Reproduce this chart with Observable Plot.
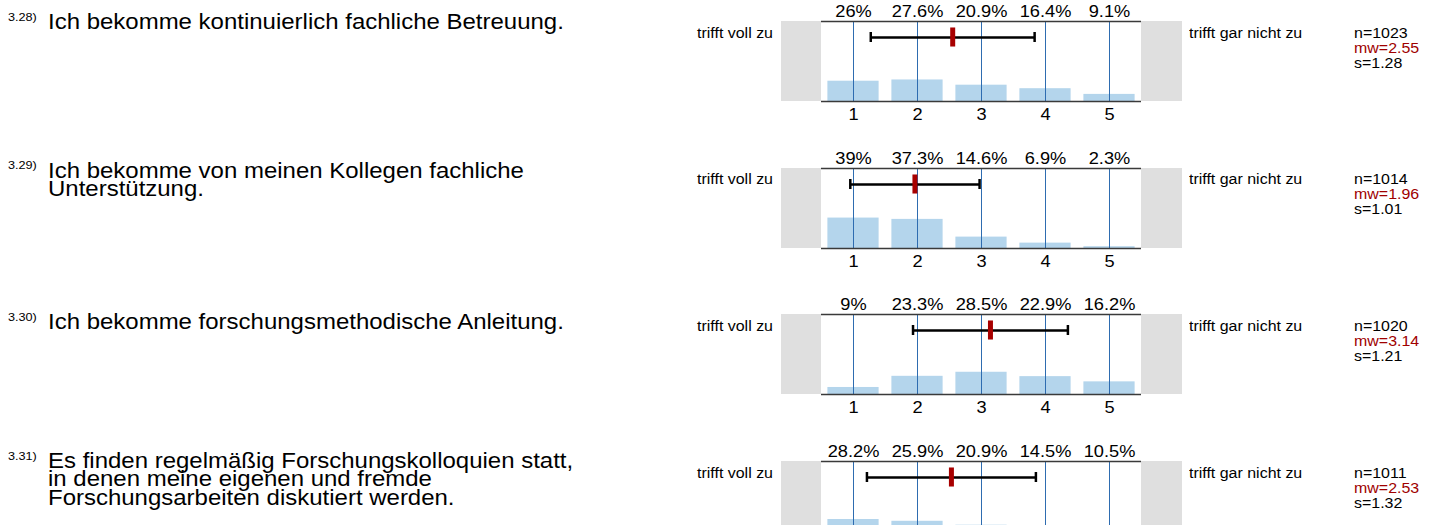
<!DOCTYPE html>
<html><head><meta charset="utf-8">
<script src="https://cdn.jsdelivr.net/npm/d3@7"></script>
<script src="https://cdn.jsdelivr.net/npm/@observablehq/plot@0.6"></script>
<style>
html,body{margin:0;padding:0;background:#fff;}
#page{position:relative;width:1436px;height:525px;overflow:hidden;background:#fff;font-family:"Liberation Sans",Arial,sans-serif;color:#000;}
.abs{position:absolute;white-space:pre;}
.q{font-size:22px;line-height:18.3px;transform:scaleX(1.09);transform-origin:left top;}
.num{font-size:11px;line-height:11px;transform:scaleX(1.15);transform-origin:left top;}
.lab{font-size:14px;line-height:14px;}
.grey{position:absolute;background:#dfdfdf;}
</style></head><body><div id="page"></div>
<script>
// ---- data ----
const questionNumbers = ["3.28)", "3.29)", "3.30)", "3.31)"];
const questionTexts = [
  "Ich bekomme kontinuierlich fachliche Betreuung.",
  "Ich bekomme von meinen Kollegen fachliche\nUnterstützung.",
  "Ich bekomme forschungsmethodische Anleitung.",
  "Es finden regelmäßig Forschungskolloquien statt,\nin denen meine eigenen und fremde\nForschungsarbeiten diskutiert werden."
];
const categories = [1, 2, 3, 4, 5];
const percentQ328 = [26, 27.6, 20.9, 16.4, 9.1];
const percentQ329 = [39, 37.3, 14.6, 6.9, 2.3];
const percentQ330 = [9, 23.3, 28.5, 22.9, 16.2];
const percentQ331 = [28.2, 25.9, 20.9, 14.5, 10.5];
const nValues = [1023, 1014, 1020, 1011];
const meanValues = [2.55, 1.96, 3.14, 2.53];
const sdValues = [1.28, 1.01, 1.21, 1.32];
const leftPoleLabel = "trifft voll zu";
const rightPoleLabel = "trifft gar nicht zu";

const percents = [percentQ328, percentQ329, percentQ330, percentQ331];

// ---- layout ----
const page = document.getElementById("page");
const panelTop = i => 21 + i * 146.7;
const textBaselines = [30, 178.5, 330, 469];
const yMax = 102.5;
const errY = 82;
const textScale = 1.14;

function div(cls, style, text) {
  const d = document.createElement("div");
  d.className = cls;
  Object.assign(d.style, style);
  if (text != null) d.textContent = text;
  page.appendChild(d);
  return d;
}

questionTexts.forEach((q, i) => {
  const T = panelTop(i);
  const base = textBaselines[i];
  div("abs num", {left: "8px", top: (base - 18.5) + "px"}, questionNumbers[i]);
  div("abs q", {left: "48px", top: (base - 16.9) + "px"}, q);

  div("grey", {left: "781px", top: T + "px", width: "40px", height: "80px"});
  div("grey", {left: "1141px", top: T + "px", width: "41px", height: "80px"});

  const rows = categories.map((c, j) => ({cat: c, pct: percents[i][j]}));
  const stat = [{mw: meanValues[i], s: sdValues[i]}];
  const chart = Plot.plot({
    width: 401, height: 126,
    marginLeft: 40, marginRight: 41, marginTop: 21, marginBottom: 25,
    x: {domain: [0.5, 5.5]},
    y: {domain: [0, yMax], axis: null},
    style: {background: "transparent", fontFamily: "'Liberation Sans', Arial, sans-serif", color: "#000", overflow: "visible"},
    marks: [
      Plot.rect(rows, {x1: d => d.cat - 0.4, x2: d => d.cat + 0.4, y1: 0, y2: "pct", fill: "#b4d5ec"}),
      Plot.ruleX(categories, {stroke: "#2e6cb0", strokeWidth: 1}),
      Plot.ruleY([0, yMax], {stroke: "#3a3a3a", strokeWidth: 1.5}),
      Plot.ruleY(stat, {y: errY, x1: d => d.mw - d.s, x2: d => d.mw + d.s, stroke: "#000", strokeWidth: 2.5}),
      Plot.ruleX(stat, {x: d => d.mw - d.s, y1: errY - 6.4, y2: errY + 6.4, stroke: "#000", strokeWidth: 2.5}),
      Plot.ruleX(stat, {x: d => d.mw + d.s, y1: errY - 6.4, y2: errY + 6.4, stroke: "#000", strokeWidth: 2.5}),
      Plot.ruleX(stat, {x: "mw", y1: errY - 12.2, y2: errY + 12.2, stroke: "#a80000", strokeWidth: 5}),
      Plot.text(rows, {x: "cat", text: d => d.pct + "%", frameAnchor: "top", dy: -10, fontSize: 16, lineAnchor: "middle", fill: "#000"}),
      Plot.axisX(categories, {tickSize: 0, tickPadding: 7, fontSize: 16, label: null, fill: "#000"})
    ]
  });
  chart.style.position = "absolute";
  chart.style.left = "781px";
  chart.style.top = (T - 21) + "px";
  chart.querySelectorAll("text").forEach(t => {
    const x = +(t.getAttribute("x") || 0);
    const tr = t.getAttribute("transform") || "";
    t.setAttribute("transform", `${tr} translate(${x},0) scale(${textScale},1) translate(${-x},0)`);
  });
  page.appendChild(chart);

  div("abs lab", {left: "0px", width: "773px", textAlign: "right", top: (T + 4.5) + "px", transform: `scaleX(${textScale})`, transformOrigin: "right top"}, leftPoleLabel);
  div("abs lab", {left: "1189px", top: (T + 4.5) + "px", transform: `scaleX(${textScale})`, transformOrigin: "left top"}, rightPoleLabel);

  const st = div("abs lab", {left: "1354px", top: (T + 4.5) + "px", lineHeight: "15px", transform: `scaleX(${textScale})`, transformOrigin: "left top"});
  const l1 = document.createElement("div"); l1.textContent = "n=" + nValues[i];
  const l2 = document.createElement("div"); l2.textContent = "mw=" + meanValues[i].toFixed(2); l2.style.color = "#a00000";
  const l3 = document.createElement("div"); l3.textContent = "s=" + sdValues[i].toFixed(2);
  st.append(l1, l2, l3);
});
</script>
</body></html>
